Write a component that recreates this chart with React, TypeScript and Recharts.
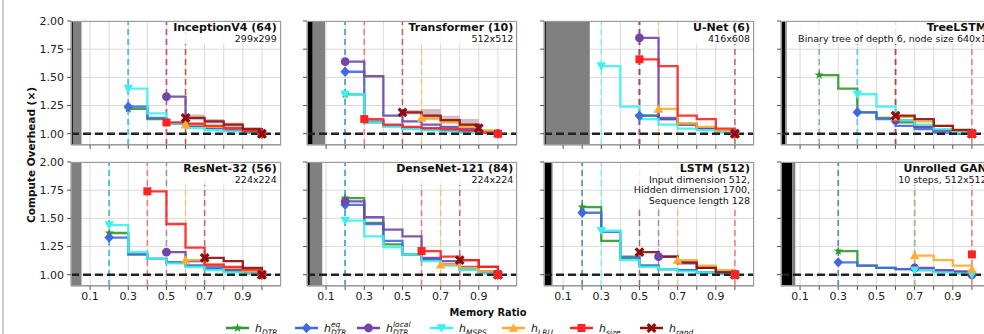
import React from "react";
import {
  ComposedChart,
  Line,
  Area,
  XAxis,
  YAxis,
  CartesianGrid,
  ReferenceLine,
  ReferenceArea,
} from "recharts";

type Pt = [number, number];
type Key = "dtr" | "eq" | "local" | "msps" | "lru" | "size" | "rand";
type Series = Partial<Record<Key, Pt[]>>;

const KEYS: Key[] = ["dtr", "eq", "local", "msps", "lru", "size", "rand"];
const COLORS: Record<Key, string> = {
  dtr: "#2f9a2f",
  eq: "#4169e1",
  local: "#7146a8",
  msps: "#3cf0f0",
  lru: "#ffab2e",
  size: "#ff2222",
  rand: "#8b0f0f",
};

const xTicks = [0.1, 0.2, 0.3, 0.4, 0.5, 0.6, 0.7, 0.8, 0.9, 1.0];
const xLabelled = [0.1, 0.3, 0.5, 0.7, 0.9];
const yTicks = [1.0, 1.25, 1.5, 1.75, 2.0];

// --- InceptionV4 ---
const inceptionV4: Series = {
  dtr: [[0.3, 1.22], [0.4, 1.13], [0.5, 1.09], [0.6, 1.07], [0.7, 1.05], [0.8, 1.03], [0.9, 1.01], [1.0, 1.0]],
  eq: [[0.3, 1.24], [0.4, 1.14], [0.5, 1.09], [0.6, 1.07], [0.7, 1.05], [0.8, 1.03], [0.9, 1.015], [1.0, 1.0]],
  local: [[0.5, 1.33], [0.6, 1.08], [0.7, 1.06], [0.8, 1.04], [0.9, 1.02], [1.0, 1.0]],
  msps: [[0.3, 1.4], [0.4, 1.18], [0.5, 1.09], [0.6, 1.05], [0.7, 1.03], [0.8, 1.02], [0.9, 1.01], [1.0, 1.0]],
  lru: [[0.6, 1.08], [0.7, 1.06], [0.8, 1.05], [0.9, 1.03], [1.0, 1.0]],
  size: [[0.5, 1.1], [0.6, 1.09], [0.7, 1.07], [0.8, 1.05], [0.9, 1.02], [1.0, 1.0]],
  rand: [[0.6, 1.14], [0.7, 1.11], [0.8, 1.08], [0.9, 1.04], [1.0, 1.0]],
};
const inceptionBand: [number, number, number][] = [[0.6, 1.12, 1.17], [0.7, 1.09, 1.13], [0.8, 1.06, 1.1], [0.9, 1.02, 1.06], [1.0, 1.0, 1.0]];

// --- Transformer ---
const transformer: Series = {
  dtr: [[0.2, 1.35], [0.3, 1.1], [0.4, 1.07], [0.5, 1.05], [0.6, 1.04], [0.7, 1.03], [0.8, 1.02], [0.9, 1.01], [1.0, 1.0]],
  eq: [[0.2, 1.55], [0.3, 1.11], [0.4, 1.07], [0.5, 1.05], [0.6, 1.04], [0.7, 1.03], [0.8, 1.02], [0.9, 1.01], [1.0, 1.0]],
  local: [[0.2, 1.64], [0.3, 1.51], [0.4, 1.16], [0.5, 1.11], [0.6, 1.08], [0.7, 1.06], [0.8, 1.04], [0.9, 1.02], [1.0, 1.0]],
  msps: [[0.2, 1.35], [0.3, 1.1], [0.4, 1.06], [0.5, 1.04], [0.6, 1.03], [0.7, 1.02], [0.8, 1.01], [0.9, 1.01], [1.0, 1.0]],
  lru: [[0.6, 1.14], [0.7, 1.1], [0.8, 1.06], [0.9, 1.03], [1.0, 1.0]],
  size: [[0.3, 1.13], [0.4, 1.08], [0.5, 1.06], [0.6, 1.05], [0.7, 1.04], [0.8, 1.03], [0.9, 1.01], [1.0, 1.0]],
  rand: [[0.5, 1.19], [0.6, 1.16], [0.7, 1.12], [0.8, 1.08], [0.9, 1.05]],
};
const transformerBand: [number, number, number][] = [[0.5, 1.17, 1.21], [0.6, 1.12, 1.22], [0.7, 1.09, 1.16], [0.8, 1.05, 1.13], [0.9, 1.04, 1.06]];

// --- U-Net ---
const unet: Series = {
  dtr: [[0.5, 1.16], [0.6, 1.13], [0.7, 1.08], [0.8, 1.05], [0.9, 1.02], [1.0, 1.0]],
  eq: [[0.5, 1.16], [0.6, 1.14], [0.7, 1.09], [0.8, 1.05], [0.9, 1.02], [1.0, 1.0]],
  local: [[0.5, 1.85], [0.6, 1.13], [0.7, 1.08], [0.8, 1.05], [0.9, 1.02], [1.0, 1.0]],
  msps: [[0.3, 1.6], [0.4, 1.24], [0.5, 1.13], [0.6, 1.08], [0.7, 1.045], [0.8, 1.03], [0.9, 1.015], [1.0, 1.0]],
  lru: [[0.6, 1.22], [0.7, 1.09], [0.8, 1.06], [0.9, 1.03], [1.0, 1.0]],
  size: [[0.5, 1.66], [0.6, 1.6], [0.7, 1.16], [0.8, 1.13], [0.9, 1.045], [1.0, 1.0]],
  rand: [[1.0, 1.0]],
};

// --- TreeLSTM ---
const treeLstm: Series = {
  dtr: [[0.2, 1.52], [0.3, 1.4], [0.4, 1.19], [0.5, 1.14], [0.6, 1.1], [0.7, 1.06], [0.8, 1.03], [0.9, 1.01], [1.0, 1.0]],
  eq: [[0.4, 1.19], [0.5, 1.13], [0.6, 1.07], [0.7, 1.04], [0.8, 1.01], [0.9, 1.0], [1.0, 1.0]],
  local: [[0.6, 1.12], [0.7, 1.06], [0.8, 1.03], [0.9, 1.01], [1.0, 1.0]],
  msps: [[0.4, 1.35], [0.5, 1.24], [0.6, 1.12], [0.7, 1.08], [0.8, 1.04], [0.9, 1.01], [1.0, 1.0]],
  lru: [[0.6, 1.15], [0.7, 1.11], [0.8, 1.07], [0.9, 1.03], [1.0, 1.0]],
  size: [[1.0, 1.0]],
  rand: [[0.6, 1.16], [0.7, 1.13], [0.8, 1.07], [0.9, 1.035], [1.0, 1.0]],
};

// --- ResNet-32 ---
const resnet: Series = {
  dtr: [[0.2, 1.37], [0.3, 1.18], [0.4, 1.14], [0.5, 1.11], [0.6, 1.08], [0.7, 1.05], [0.8, 1.03], [0.9, 1.01], [1.0, 1.0]],
  eq: [[0.2, 1.33], [0.3, 1.18], [0.4, 1.14], [0.5, 1.11], [0.6, 1.08], [0.7, 1.06], [0.8, 1.04], [0.9, 1.02], [1.0, 1.0]],
  local: [[0.5, 1.2], [0.6, 1.12], [0.7, 1.08], [0.8, 1.05], [0.9, 1.03], [1.0, 1.0]],
  msps: [[0.2, 1.44], [0.3, 1.2], [0.4, 1.14], [0.5, 1.1], [0.6, 1.07], [0.7, 1.04], [0.8, 1.02], [0.9, 1.01], [1.0, 1.0]],
  lru: [[0.6, 1.13], [0.7, 1.09], [0.8, 1.06], [0.9, 1.03], [1.0, 1.0]],
  size: [[0.4, 1.74], [0.5, 1.45], [0.6, 1.24], [0.7, 1.09], [0.8, 1.07], [0.9, 1.045], [1.0, 1.0]],
  rand: [[0.7, 1.15], [0.8, 1.12], [0.9, 1.06], [1.0, 1.0]],
};

// --- DenseNet-121 ---
const densenet: Series = {
  dtr: [[0.2, 1.68], [0.3, 1.46], [0.4, 1.27], [0.5, 1.18], [0.6, 1.13], [0.7, 1.09], [0.8, 1.05], [0.9, 1.02], [1.0, 1.0]],
  eq: [[0.2, 1.62], [0.3, 1.45], [0.4, 1.3], [0.5, 1.18], [0.6, 1.14], [0.7, 1.09], [0.8, 1.05], [0.9, 1.02], [1.0, 1.0]],
  local: [[0.2, 1.65], [0.3, 1.51], [0.4, 1.4], [0.5, 1.34], [0.6, 1.15], [0.7, 1.12], [0.8, 1.07], [0.9, 1.03], [1.0, 1.0]],
  msps: [[0.2, 1.48], [0.3, 1.34], [0.4, 1.245], [0.5, 1.18], [0.6, 1.12], [0.7, 1.08], [0.8, 1.04], [0.9, 1.01], [1.0, 1.0]],
  lru: [[0.7, 1.09], [0.8, 1.06], [0.9, 1.03], [1.0, 1.0]],
  size: [[0.6, 1.21], [0.7, 1.16], [0.8, 1.13], [0.9, 1.07], [1.0, 1.0]],
  rand: [[0.8, 1.13], [0.9, 1.07], [1.0, 1.0]],
};

// --- LSTM ---
const lstm: Series = {
  dtr: [[0.2, 1.6], [0.3, 1.3], [0.4, 1.15], [0.5, 1.08], [0.6, 1.05], [0.7, 1.04], [0.8, 1.02], [0.9, 1.01], [1.0, 1.0]],
  eq: [[0.2, 1.55], [0.3, 1.38], [0.4, 1.16], [0.5, 1.08], [0.6, 1.05], [0.7, 1.04], [0.8, 1.02], [0.9, 1.01], [1.0, 1.0]],
  local: [[0.6, 1.16], [0.7, 1.1], [0.8, 1.06], [0.9, 1.03], [1.0, 1.0]],
  msps: [[0.3, 1.39], [0.4, 1.13], [0.5, 1.07], [0.6, 1.05], [0.7, 1.03], [0.8, 1.02], [0.9, 1.01], [1.0, 1.0]],
  lru: [[0.7, 1.13], [0.8, 1.08], [0.9, 1.04], [1.0, 1.0]],
  size: [[1.0, 1.0]],
  rand: [[0.5, 1.2], [0.6, 1.16], [0.7, 1.11], [0.8, 1.06], [0.9, 1.02], [1.0, 1.0]],
};

// --- Unrolled GAN ---
const gan: Series = {
  dtr: [[0.3, 1.21], [0.4, 1.08], [0.5, 1.06], [0.6, 1.05], [0.7, 1.04], [0.8, 1.03], [0.9, 1.02], [1.0, 1.0]],
  eq: [[0.3, 1.11], [0.4, 1.08], [0.5, 1.06], [0.6, 1.05], [0.7, 1.045], [0.8, 1.035], [0.9, 1.02], [1.0, 1.0]],
  local: [[0.7, 1.06], [0.8, 1.04], [0.9, 1.03], [1.0, 1.0]],
  msps: [[0.7, 1.04], [0.8, 1.02], [0.9, 1.01], [1.0, 1.0]],
  lru: [[0.7, 1.17], [0.8, 1.13], [0.9, 1.08], [1.0, 1.05]],
  size: [[1.0, 1.18]],
};

interface PanelDef {
  title: string;
  sub: string[];
  series: Series;
  blocked: [number, number]; // [black end, gray end]
  band?: [number, number, number][];
  sizeOnTop?: boolean;
}

const panels: PanelDef[] = [
  { title: "InceptionV4 (64)", sub: ["299x299"], series: inceptionV4, blocked: [0.01, 0.055], band: inceptionBand },
  { title: "Transformer (10)", sub: ["512x512"], series: transformer, blocked: [0.03, 0.095], band: transformerBand },
  { title: "U-Net (6)", sub: ["416x608"], series: unet, blocked: [0.01, 0.24] },
  { title: "TreeLSTM", sub: ["Binary tree of depth 6, node size 640x1"], series: treeLstm, blocked: [0.022, 0.03], sizeOnTop: true },
  { title: "ResNet-32 (56)", sub: ["224x224"], series: resnet, blocked: [0.004, 0.055] },
  { title: "DenseNet-121 (84)", sub: ["224x224"], series: densenet, blocked: [0.015, 0.08], sizeOnTop: true },
  { title: "LSTM (512)", sub: ["Input dimension 512,", "Hidden dimension 1700,", "Sequence length 128"], series: lstm, blocked: [0.04, 0.045], sizeOnTop: true },
  { title: "Unrolled GAN", sub: ["10 steps, 512x512"], series: gan, blocked: [0.058, 0.075] },
];

const FONT = "'DejaVu Sans', sans-serif";
const PLOT_W = 210;
const PLOT_H = 124;
const YW = 40;
const MT = 4;
const MR = 4;
const XH = 22;
const COL_X = [70.7, 307.3, 544, 780.7];
const ROW_Y = [20.7, 161.7];

function Marker({ k, x, y }: { k: Key; x: number; y: number }) {
  const c = COLORS[k];
  switch (k) {
    case "dtr": {
      const pts: string[] = [];
      for (let i = 0; i < 10; i++) {
        const r = i % 2 === 0 ? 4.8 : 2;
        const a = -Math.PI / 2 + (i * Math.PI) / 5;
        pts.push(`${x + r * Math.cos(a)},${y + r * Math.sin(a)}`);
      }
      return <polygon points={pts.join(" ")} fill={c} />;
    }
    case "eq":
      return <polygon points={`${x},${y - 5.2} ${x + 4.8},${y} ${x},${y + 5.2} ${x - 4.8},${y}`} fill={c} />;
    case "local":
      return <circle cx={x} cy={y} r={4.4} fill={c} />;
    case "msps":
      return <polygon points={`${x - 4.8},${y - 3.8} ${x + 4.8},${y - 3.8} ${x},${y + 4.6}`} fill={c} />;
    case "lru":
      return <polygon points={`${x - 4.8},${y + 3.8} ${x + 4.8},${y + 3.8} ${x},${y - 4.6}`} fill={c} />;
    case "size":
      return <rect x={x - 4} y={y - 4} width={8} height={8} fill={c} />;
    case "rand":
      return (
        <path
          d={`M${x - 3.8},${y - 3.8}L${x + 3.8},${y + 3.8}M${x + 3.8},${y - 3.8}L${x - 3.8},${y + 3.8}`}
          stroke={c}
          strokeWidth={3.2}
        />
      );
  }
}

const dotFor = (k: Key, last: number) => (props: any) => {
  const { cx, cy, index } = props;
  if (cx == null || cy == null || (index !== 0 && index !== last)) return <g key={`d-${k}-${index}`} />;
  return (
    <g key={`d-${k}-${index}`}>
      <Marker k={k} x={cx} y={cy} />
    </g>
  );
};

function Panel({ p, col, row }: { p: PanelDef; col: number; row: number }) {
  const px = COL_X[col];
  const py = ROW_Y[row];
  const order: Key[] = p.sizeOnTop ? [...KEYS.filter((k) => k !== "size"), "size"] : KEYS;
  const keys = order.filter((k) => p.series[k]);
  const bottom = row === 1;
  const W = YW + PLOT_W + MR;
  const H = MT + PLOT_H + XH;
  return (
    <div style={{ position: "absolute", left: px - YW, top: py - MT, width: W, height: H }}>
      <ComposedChart width={W} height={H} margin={{ top: MT, right: MR, bottom: 0, left: 0 }}>
        <CartesianGrid stroke="#dadada" strokeWidth={1} />
        <XAxis
          type="number"
          dataKey="x"
          domain={[0, 1.1]}
          ticks={xTicks}
          interval={0}
          allowDataOverflow
          height={XH}
          tickSize={4}
          tickMargin={2}
          tickFormatter={(v: number) => (bottom && xLabelled.some((t) => Math.abs(t - v) < 1e-6) ? v.toFixed(1) : "")}
          tick={{ fontSize: 11, fill: "#222", fontFamily: FONT }}
          axisLine={{ stroke: "#9a9a9a" }}
          tickLine={{ stroke: "#555" }}
        />
        <YAxis
          type="number"
          domain={[0.9, 2.0]}
          ticks={yTicks}
          interval={0}
          allowDataOverflow
          width={YW}
          tickSize={4}
          tickMargin={3}
          tickFormatter={(v: number) => (col === 0 ? v.toFixed(2) : "")}
          tick={{ fontSize: 11, fill: "#222", fontFamily: FONT }}
          axisLine={{ stroke: "#9a9a9a" }}
          tickLine={{ stroke: "#555" }}
        />
        <ReferenceArea x1={0} x2={p.blocked[0]} fill="#000" fillOpacity={1} stroke="none" />
        <ReferenceArea x1={p.blocked[0]} x2={p.blocked[1]} fill="#808080" fillOpacity={1} stroke="none" />
        {keys.map((k) => (
          <ReferenceLine
            key={`v-${k}`}
            x={p.series[k]![0][0]}
            stroke={COLORS[k]}
            strokeOpacity={0.55}
            strokeWidth={1.6}
            strokeDasharray="6 4"
          />
        ))}
        {p.band && (
          <Area
            data={p.band.map(([x, lo, hi]) => ({ x, r: [lo, hi] }))}
            dataKey="r"
            type="stepAfter"
            stroke="none"
            fill="#bc8f8f"
            fillOpacity={0.6}
            isAnimationActive={false}
          />
        )}
        {keys.map((k) => {
          const pts = p.series[k]!;
          return (
            <Line
              key={k}
              data={pts.map(([x, y]) => ({ x, y }))}
              dataKey="y"
              type="stepAfter"
              stroke={COLORS[k]}
              strokeWidth={2.3}
              strokeOpacity={0.9}
              dot={dotFor(k, pts.length - 1)}
              activeDot={false}
              isAnimationActive={false}
            />
          );
        })}
        <ReferenceLine y={1} stroke="#222" strokeWidth={2.3} strokeDasharray="8 4" />
      </ComposedChart>
      <div
        style={{
          position: "absolute",
          left: YW,
          top: MT,
          width: PLOT_W,
          height: PLOT_H,
          boxSizing: "border-box",
          border: "1px solid #9a9a9a",
          pointerEvents: "none",
        }}
      />
      <div
        style={{
          position: "absolute",
          right: MR + 3,
          top: MT + 1,
          textAlign: "right",
          fontFamily: FONT,
          color: "#111",
          background: "rgba(255,255,255,0.85)",
          padding: "0 1px",
          whiteSpace: "nowrap",
        }}
      >
        <div style={{ fontWeight: "bold", fontSize: 11, lineHeight: "12px" }}>{p.title}</div>
        {p.sub.map((s) => (
          <div key={s} style={{ fontSize: 9.5, lineHeight: "10.8px" }}>
            {s}
          </div>
        ))}
      </div>
    </div>
  );
}

const legendItems: { k: Key; sup?: string; sub: string }[] = [
  { k: "dtr", sub: "DTR" },
  { k: "eq", sup: "eq", sub: "DTR" },
  { k: "local", sup: "local", sub: "DTR" },
  { k: "msps", sub: "MSPS" },
  { k: "lru", sub: "LRU" },
  { k: "size", sub: "size" },
  { k: "rand", sub: "rand" },
];
const legendX = [226, 295, 357, 430, 502, 570, 640];

export default function App() {
  return (
    <div
      style={{
        position: "absolute",
        left: 0,
        top: 0,
        width: 984,
        height: 334,
        overflow: "hidden",
        background: "#fff",
      }}
    >
      <div style={{ position: "absolute", left: 2, top: 0, width: 2, height: 334, background: "#cfcfcf" }} />
      {panels.map((p, i) => (
        <Panel key={p.title} p={p} col={i % 4} row={Math.floor(i / 4)} />
      ))}
      <svg
        width={984}
        height={334}
        style={{ position: "absolute", left: 0, top: 0, pointerEvents: "none" }}
        fontFamily={FONT}
      >
        <text
          x={31}
          y={155}
          transform="rotate(-90 31 155)"
          textAnchor="middle"
          dominantBaseline="central"
          fontSize={10.5}
          fontWeight="bold"
          fill="#111"
        >
          Compute Overhead (×)
        </text>
        <text x={488} y={312} textAnchor="middle" dominantBaseline="central" fontSize={9.8} fontWeight="bold" fill="#111">
          Memory Ratio
        </text>
        {legendItems.map((it, i) => {
          const x0 = legendX[i];
          const ly = 328;
          const tx = x0 + 29;
          return (
            <g key={it.k}>
              <line x1={x0} y1={ly} x2={x0 + 23} y2={ly} stroke={COLORS[it.k]} strokeWidth={2.5} />
              <Marker k={it.k} x={x0 + 11.5} y={ly} />
              <text x={tx} y={ly + 4} fontSize={11} fontStyle="italic" fill="#111">
                h
              </text>
              {it.sup && (
                <text x={tx + 7} y={ly - 1} fontSize={7.5} fontStyle="italic" fill="#111">
                  {it.sup}
                </text>
              )}
              <text x={tx + 7} y={ly + 7} fontSize={7.5} fontStyle="italic" fill="#111">
                {it.sub}
              </text>
            </g>
          );
        })}
      </svg>
    </div>
  );
}
